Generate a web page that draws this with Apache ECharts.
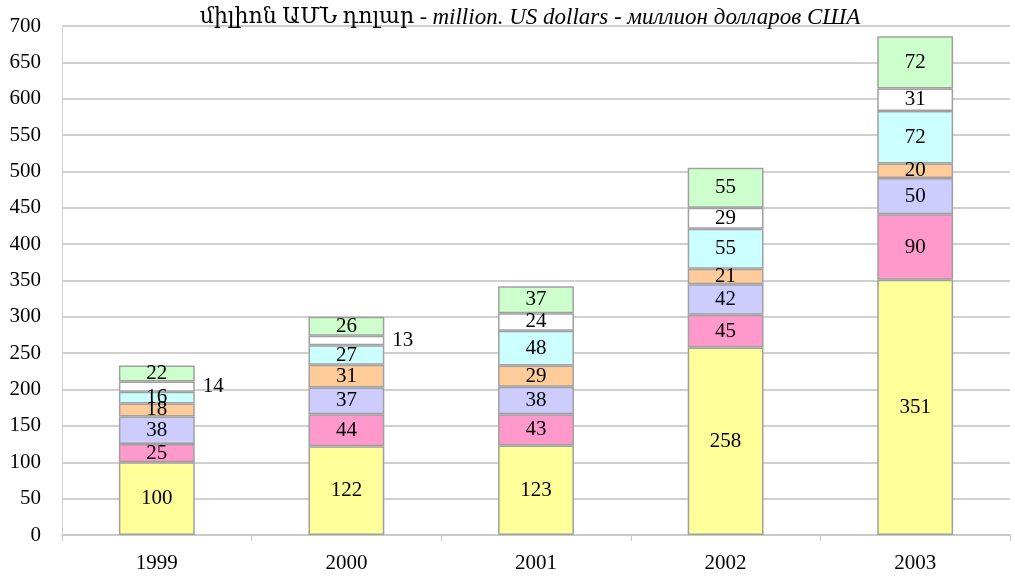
<!DOCTYPE html>
<html><head><meta charset="utf-8">
<script src="https://cdn.jsdelivr.net/npm/echarts@6/dist/echarts.min.js"></script>
<style>html,body{margin:0;padding:0;background:#fff}#c{width:1015px;height:576px}</style>
</head><body><div id="c"></div>
<script>
const years = ['1999','2000','2001','2002','2003'];
const s1 = [100,122,123,258,351];
const s2 = [25,44,43,45,90];
const s3 = [38,37,38,42,50];
const s4 = [18,31,29,21,20];
const s5 = [16,27,48,55,72];
const s6 = [14,13,24,29,31];
const s7 = [22,26,37,55,72];
const yTicks = [0,50,100,150,200,250,300,350,400,450,500,550,600,650,700];

const colors = ['#FFFF99','#FF99CC','#CCCCFF','#FFCC99','#CCFFFF','#FFFFFF','#CCFFCC'];
const all = [s1,s2,s3,s4,s5,s6,s7];
const FONT = '"Liberation Serif","DejaVu Serif",serif';
const series = all.map((d,i)=>({
  type:'bar', stack:'t', barWidth:'40%',
  data: d.map((v,j)=>{
    const o={value:v};
    if(i===5 && j<2){ o.label={position:'right',distance:8}; }
    return o;
  }),
  itemStyle:{color:colors[i], borderColor:'#a0a0a0', borderWidth:1.5},
  label:{show:true, position:'inside', color:'#000', fontFamily:FONT, fontSize:21},
  emphasis:{disabled:true}
}));
const chart = echarts.init(document.getElementById('c'));
chart.setOption({
  animation:false,
  title:{text:'{a|միլիոն ԱՄՆ դոլար - }{b|million. US dollars - миллион долларов США}', left:525, textAlign:'center', top:1,
    textStyle:{rich:{a:{fontFamily:FONT,fontSize:22,fontWeight:'normal',color:'#000'},b:{fontFamily:FONT,fontSize:23,fontWeight:'normal',fontStyle:'italic',color:'#000'}}}},
  grid:{left:62,right:5,top:26,bottom:41},
  xAxis:{type:'category', data:years,
    axisLine:{lineStyle:{color:'#c8c8c8',width:1.5}},
    axisTick:{show:true,length:6,lineStyle:{color:'#c8c8c8'}},
    axisLabel:{color:'#000',fontFamily:FONT,fontSize:21,margin:18}},
  yAxis:{type:'value', min:0, max:700, interval:50,
    axisLine:{show:true,lineStyle:{color:'#d0d0d0'}},
    axisTick:{show:false},
    splitLine:{lineStyle:{color:'#c0c0c0',width:1.5}},
    axisLabel:{color:'#000',fontFamily:FONT,fontSize:21,margin:21,
      formatter:v=>yTicks.includes(v)?String(v):''}},
  series
});
</script></body></html>
